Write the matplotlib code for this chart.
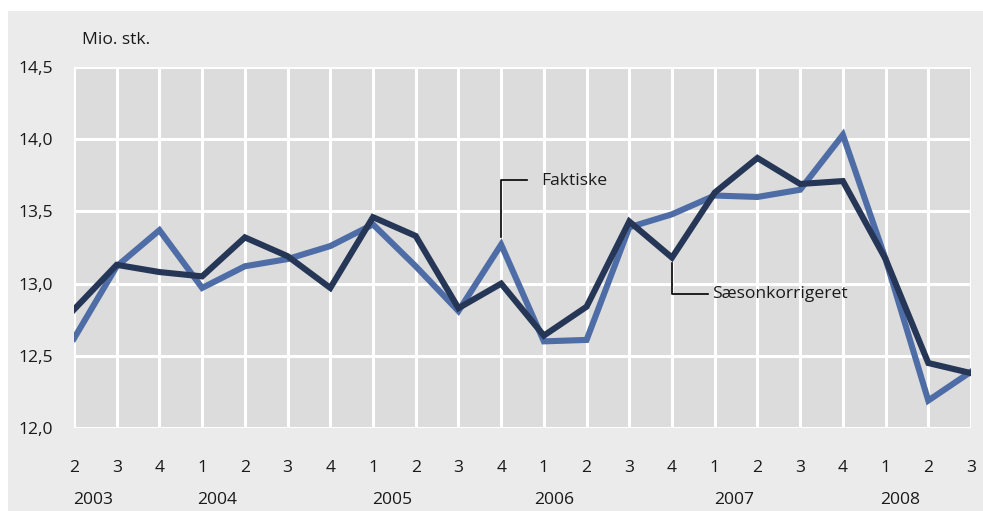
import matplotlib.pyplot as plt
from matplotlib.patches import Rectangle
import matplotlib.transforms as mtransforms

# kvartaler 2003K2 - 2008K3
kvartaler = ['2', '3', '4', '1', '2', '3', '4', '1', '2', '3', '4',
             '1', '2', '3', '4', '1', '2', '3', '4', '1', '2', '3']
aar = ['2003', '2004', '2005', '2006', '2007', '2008']
aar_pos = [0.45, 3.35, 7.45, 11.25, 15.45, 19.35]

faktiske = [12.62, 13.12, 13.37, 12.97, 13.12, 13.17, 13.26, 13.41, 13.12, 12.81, 13.27,
            12.60, 12.61, 13.39, 13.48, 13.61, 13.60, 13.65, 14.03, 13.17, 12.19, 12.39]
saeson = [12.82, 13.13, 13.08, 13.05, 13.32, 13.19, 12.97, 13.46, 13.33, 12.83, 13.00,
          12.64, 12.84, 13.43, 13.18, 13.63, 13.87, 13.69, 13.71, 13.17, 12.45, 12.38]

yticks = [12.0, 12.5, 13.0, 13.5, 14.0, 14.5]

plt.rcParams['font.family'] = ['Open Sans', 'DejaVu Sans']
fs = 12.6

fig = plt.figure(figsize=(9.83, 5.11), dpi=100)
fig.patch.set_facecolor('white')
# grå baggrund
fig.patches.append(Rectangle((8 / 983, 0), 1, 1 - 11 / 511, transform=fig.transFigure,
                             facecolor='#ebebeb', edgecolor='none', zorder=-10))

ax = fig.add_axes([74 / 983, 1 - 428 / 511, 897 / 983, 361 / 511])
ax.set_zorder(5)
ax.set_facecolor('#dcdcdc')
x = list(range(len(kvartaler)))

ax.plot(x, faktiske, color='#4e6da6', linewidth=4.4, solid_joinstyle='miter', zorder=3)
ax.plot(x, saeson, color='#263656', linewidth=4.4, solid_joinstyle='miter', zorder=4)

ax.set_xlim(0, len(kvartaler) - 1)
ax.set_ylim(12.0, 14.5)
ax.set_xticks(x)
ax.set_xticklabels(kvartaler)
ax.set_yticks(yticks)
ax.set_yticklabels([f'{v:.1f}'.replace('.', ',') for v in yticks])
ax.grid(True, color='white', linewidth=2.2, zorder=1)
ax.set_axisbelow(True)
for s in ax.spines.values():
    s.set_visible(False)
ax.tick_params(length=0, labelsize=fs, colors='#1a1a1a')
ax.tick_params(axis='x', pad=23)
ax.tick_params(axis='y', pad=15)

# årstal under kvartalerne
trans = mtransforms.blended_transform_factory(ax.transData, fig.transFigure)
for a, p in zip(aar, aar_pos):
    ax.text(p, 1 - 500 / 511, a, transform=trans, ha='center', va='center',
            fontsize=fs, color='#1a1a1a')

fig.text(82 / 983, 1 - 40 / 511, 'Mio. stk.', ha='left', va='center',
         fontsize=fs, color='#1a1a1a')

# ledelinjer
ax.plot([10, 10, 10.6], [13.32, 13.72, 13.72], color='black', linewidth=1.2, zorder=5)
ax.text(10.95, 13.71, 'Faktiske', ha='left', va='center', fontsize=fs, color='#1a1a1a')
ax.plot([14, 14, 14.85], [13.14, 12.93, 12.93], color='black', linewidth=1.2, zorder=5)
ax.text(14.93, 12.93, 'Sæsonkorrigeret', ha='left', va='center', fontsize=fs, color='#1a1a1a')

fig.savefig('out.png', dpi=100)
